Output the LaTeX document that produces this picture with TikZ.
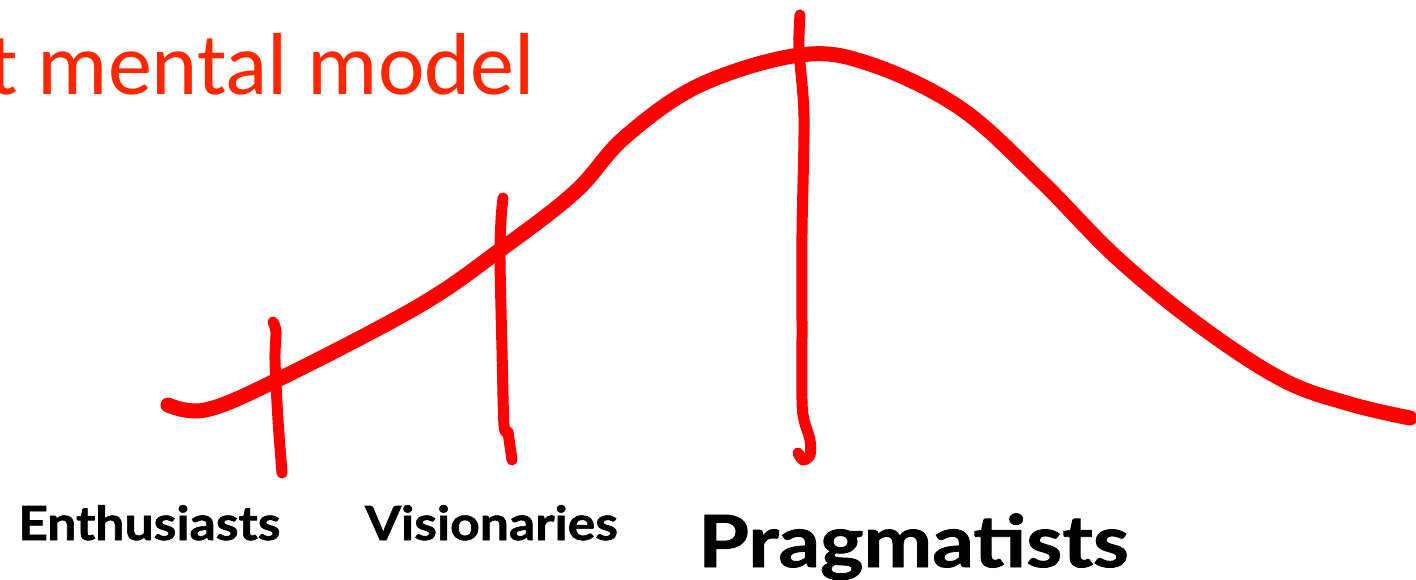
\documentclass[tikz,border=0pt]{standalone}
\usepackage{fontspec}
\setmainfont{Carlito}
\newfontfamily\labfont{Lato}[BoldFeatures={FakeBold=1.2}]
\definecolor{titlered}{RGB}{255,38,0}
\definecolor{penred}{RGB}{255,0,0}
\begin{document}
\begin{tikzpicture}[x=1pt,y=-1pt,
  pen/.style={draw=penred,line width=15pt,line cap=round,line join=round},
  tick/.style={draw=penred,line width=11pt,line cap=round,line join=round},
  lab/.style={text=black,inner sep=0pt,anchor=base west}]
\useasboundingbox (0,0) rectangle (1416,580);
\clip (0,0) rectangle (1416,580);
\node[anchor=base east,inner sep=0pt,text=titlered,font=\fontsize{88}{100}\selectfont] (title) at (535,95) {t mental model};
% bell curve
\draw[pen] plot[smooth,tension=0.6] coordinates {(168,405) (205,410) (273,382) (417,307) (500,250) (575,192) (625,137) (700,85) (800,55) (870,64) (960,108) (1040,180) (1117,258) (1200,326) (1283,380) (1350,404) (1410,418)};
% ticks
\draw[tick] plot[smooth] coordinates {(273,322) (276,332) (275,360) (278,420) (282,473)};
\draw[tick] plot[smooth] coordinates {(503,198) (501,220) (500,260) (502,350) (504,425) (508,432)};
\draw[tick] (508,432) -- (512,460);
\draw[tick] plot[smooth,tension=0.5] coordinates {(800,15) (799,50) (804,117) (802,233) (802,330) (802,400) (804,420) (810,440) (810,455) (803,460) (798,453)};
% labels
\node[lab,font=\labfont\bfseries\fontsize{47}{52}\selectfont] (e) at (18,540) {\scalebox{1.1}[1]{Enthusiasts}};
\node[lab,font=\labfont\bfseries\fontsize{47}{52}\selectfont] (v) at (365,540) {\scalebox{1.1}[1]{Visionaries}};
\node[lab,font=\labfont\bfseries\fontsize{72}{80}\selectfont] (p) at (698,567) {\scalebox{1.14}[1]{Pragmatists}};
\end{tikzpicture}
\end{document}
